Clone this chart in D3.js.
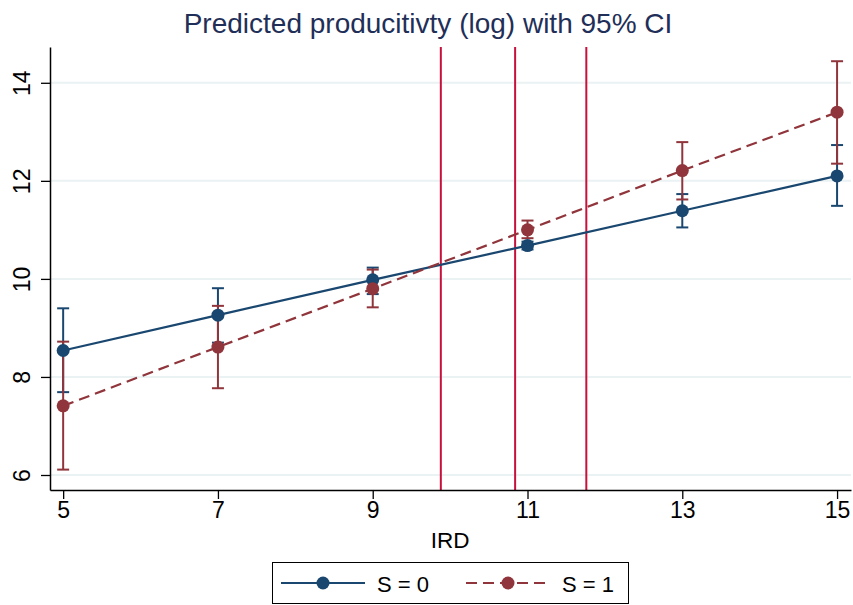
<!DOCTYPE html>
<html>
<head>
<meta charset="utf-8">
<script src="https://cdn.jsdelivr.net/npm/d3@7"></script>
<style>
  body { margin: 0; background: #fff; }
  svg { display: block; font-family: "Liberation Sans", Arial, sans-serif; }
</style>
</head>
<body>
<svg id="chart" width="853" height="605"></svg>
<script>
// values
const ird = [5, 7, 9, 11, 13, 15];
const s0 = [8.54, 9.26, 9.98, 10.68, 11.39, 12.10];
const s0Lo = [7.69, 8.70, 9.69, 10.60, 11.05, 11.49];
const s0Hi = [9.40, 9.81, 10.23, 10.76, 11.73, 12.73];
const s1 = [7.41, 8.61, 9.80, 11.00, 12.21, 13.40];
const s1Lo = [6.11, 7.77, 9.42, 10.83, 11.62, 12.35];
const s1Hi = [8.72, 9.45, 10.19, 11.19, 12.79, 14.44];
const refLines = [9.88, 10.84, 11.76];
const xTicks = [5, 7, 9, 11, 13, 15];
const yTicks = [6, 8, 10, 12, 14];

const navy = "#1a476f", maroon = "#90353b", red = "#c8103c";

const svg = d3.select("#chart");
const plotL = 50, plotR = 851, plotT = 47, plotB = 490;

const x = d3.scaleLinear().domain([4.83, 15.18]).range([plotL, plotR]);
const y = d3.scaleLinear().domain([5.694, 14.73]).range([plotB, plotT]);

// gridlines
svg.append("g").selectAll("line").data(yTicks).enter().append("line")
  .attr("x1", plotL).attr("x2", plotR)
  .attr("y1", d => y(d)).attr("y2", d => y(d))
  .attr("stroke", "#eaf2f3").attr("stroke-width", 2);

// reference lines
svg.append("g").selectAll("line").data(refLines).enter().append("line")
  .attr("x1", d => x(d)).attr("x2", d => x(d))
  .attr("y1", plotT).attr("y2", plotB)
  .attr("stroke", red).attr("stroke-width", 2);

// axes
const xAxis = svg.append("g").attr("transform", `translate(0,${plotB})`)
  .call(d3.axisBottom(x).tickValues(xTicks).tickSize(9).tickPadding(3).tickSizeOuter(0));
xAxis.select(".domain").attr("stroke-width", 1.5);
xAxis.selectAll(".tick line").attr("stroke-width", 1.3);
xAxis.selectAll("text").style("font-size", "23px").attr("fill", "#000");

const yAxis = svg.append("g").attr("transform", `translate(${plotL},0)`)
  .call(d3.axisLeft(y).tickValues(yTicks).tickSize(9).tickSizeOuter(0));
yAxis.select(".domain").attr("stroke-width", 1.5);
yAxis.selectAll(".tick line").attr("stroke-width", 1.3);
yAxis.selectAll("text")
  .style("font-size", "23px").attr("fill", "#000")
  .attr("x", null).attr("dy", null)
  .attr("text-anchor", "middle")
  .attr("transform", "translate(-20,0) rotate(-90)")
  .attr("y", 0);

// series
const series = [
  { v: s0, lo: s0Lo, hi: s0Hi, color: navy, dash: null },
  { v: s1, lo: s1Lo, hi: s1Hi, color: maroon, dash: "11,6" }
];

const line = d3.line().x((d, i) => x(ird[i])).y(d => y(d));

series.forEach(s => {
  const g = svg.append("g");
  // CI bars
  g.selectAll("line.ci").data(ird).enter().append("line")
    .attr("x1", d => x(d)).attr("x2", d => x(d))
    .attr("y1", (d, i) => y(s.lo[i])).attr("y2", (d, i) => y(s.hi[i]))
    .attr("stroke", s.color).attr("stroke-width", 2);
  [s.lo, s.hi].forEach(arr => {
    g.selectAll(null).data(ird).enter().append("line")
      .attr("x1", d => x(d) - 6).attr("x2", d => x(d) + 6)
      .attr("y1", (d, i) => y(arr[i])).attr("y2", (d, i) => y(arr[i]))
      .attr("stroke", s.color).attr("stroke-width", 2);
  });
});

series.forEach(s => {
  const g = svg.append("g");
  g.append("path").datum(s.v).attr("d", line)
    .attr("fill", "none").attr("stroke", s.color).attr("stroke-width", 2.2)
    .attr("stroke-dasharray", s.dash);
  g.selectAll("circle").data(s.v).enter().append("circle")
    .attr("cx", (d, i) => x(ird[i])).attr("cy", d => y(d))
    .attr("r", 6.5).attr("fill", s.color);
});

// title
svg.append("text").attr("x", 428).attr("y", 33)
  .attr("text-anchor", "middle").style("font-size", "28px").attr("fill", "#1f2f58")
  .text("Predicted producitivty (log) with 95% CI");

// x title
svg.append("text").attr("x", 450).attr("y", 548)
  .attr("text-anchor", "middle").style("font-size", "22.5px").attr("fill", "#000")
  .text("IRD");

// legend
const lg = svg.append("g");
lg.append("rect").attr("x", 272.5).attr("y", 562.5).attr("width", 356).attr("height", 41)
  .attr("fill", "#fff").attr("stroke", "#000").attr("stroke-width", 1);
const legendItems = [
  { label: "S = 0", color: navy, dash: null, x0: 281 },
  { label: "S = 1", color: maroon, dash: "11,6", x0: 466 }
];
legendItems.forEach(it => {
  lg.append("line").attr("x1", it.x0).attr("x2", it.x0 + 84)
    .attr("y1", 583).attr("y2", 583)
    .attr("stroke", it.color).attr("stroke-width", 2).attr("stroke-dasharray", it.dash);
  lg.append("circle").attr("cx", it.x0 + 42).attr("cy", 583).attr("r", 6.5).attr("fill", it.color);
  lg.append("text").attr("x", it.x0 + 96).attr("y", 591.5)
    .style("font-size", "22px").attr("fill", "#000").text(it.label);
});
</script>
</body>
</html>
